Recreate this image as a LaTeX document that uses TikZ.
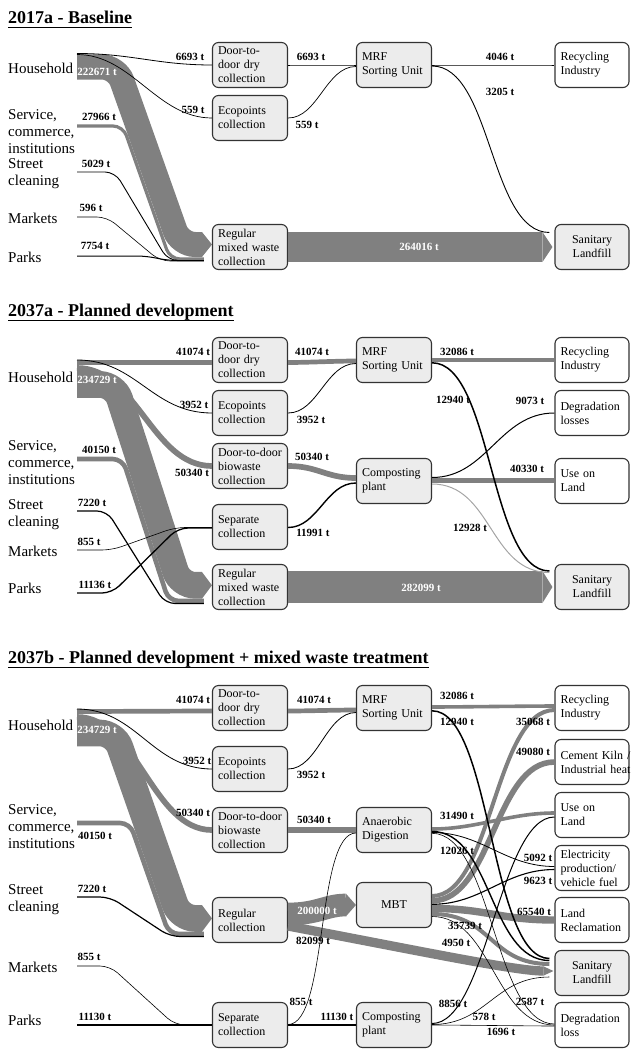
\documentclass[tikz,border=0pt]{standalone}
\usepackage{fontspec}
\setmainfont{Liberation Serif}
\usetikzlibrary{arrows.meta}
\definecolor{bandgray}{RGB}{128,128,128}
\definecolor{boxgray}{RGB}{236,236,236}
\definecolor{pale}{RGB}{165,165,165}

\begin{document}
\begin{tikzpicture}
  [x=1pt,y=-1pt,
   box/.style={draw=black!80,line width=1.1pt,rounded corners=6pt,fill=boxgray,
     minimum width=75pt,minimum height=45pt,text width=64pt,inner xsep=5.5pt,
     inner ysep=1pt,align=left,font=\fontsize{12}{14}\selectfont},
   sink/.style={box,fill=white,minimum width=74pt,text width=63pt},
   src/.style={anchor=west,inner sep=0pt,align=left,font=\fontsize{15}{17}\selectfont},
   lab/.style={inner sep=0pt,font=\fontsize{11}{12}\selectfont\bfseries},
   wlab/.style={lab,text=white},
   ttl/.style={anchor=west,inner sep=0pt,font=\fontsize{18}{20}\selectfont\bfseries},
   flowk/.style={draw=black,line width=#1pt},
   flowg/.style={draw=bandgray,line width=#1pt},
   tip/.style={-{Triangle[length=10pt,width=0pt 1,line width=0pt]}},
   sflow/.style={to path={.. controls +(#1,0) and +(-#1,0) .. (\tikztotarget)}}]
  \useasboundingbox (0,0) rectangle (630,1049);

  % ---------- 2017a ----------
  \node[ttl] (t1) at (8,17) {2017a - Baseline};
  \draw[line width=1.3pt] ([yshift=-4pt]t1.base west) -- ([yshift=-4pt]t1.base east);
  \node[src] (s11) at (8,68) {Household};
  \node[src] (s12) at (8,132) {Service,\\commerce,\\institutions};
  \node[src] (s13) at (8,174) {Street\\cleaning};
  \node[src] (s14) at (8,218) {Markets};
  \node[src] (s15) at (8,257) {Parks};

  \node[box] (dtd1) at (250,65) {Door-to-\\door dry\\collection};
  \node[box] (eco1) at (250,118) {Ecopoints\\collection};
  \node[box] (reg1) at (250,247) {Regular\\mixed waste\\collection};
  \node[box] (mrf1) at (394,65) {MRF\\Sorting Unit};
  \node[sink] (rec1) at (592,65) {Recycling\\Industry};
  \node[sink,fill=boxgray,align=center] (lan1) at (592,247) {Sanitary\\Landfill};

  \coordinate (hh1) at (77,53);
  \coordinate (sv1) at (77,126);
  \coordinate (st1) at (77,172);
  \coordinate (mk1) at (77,217);
  \coordinate (pk1) at (77,256);

  \draw[flowg=25,tip,rounded corners=15pt] ([shift={(0,14)}]hh1) -- ++(40,0) -- ++(63,177.5) -- ([shift={(0,-2.5)}]reg1.west);
  \draw[flowg=3.2,rounded corners=10pt] (sv1) -- ++(46,0) -- ++(47,133) -- ([shift={(-8,12)}]reg1.west);
  \draw[flowg=30,tip] (reg1.east) -- ([xshift=-2pt]lan1.west);
  \draw[flowk=0.9,rounded corners=10pt] (st1) -- ++(38,0) -- ++(53,88.5) -- ([shift={(-8,13.5)}]reg1.west);
  \draw[flowk=0.6,rounded corners=10pt] (mk1) -- ++(30,0) -- ++(53,44) -- ([shift={(-8,14)}]reg1.west);
  \draw[flowk=1,rounded corners=10pt] (pk1) -- ++(70,0) -- ++(20,4.5) -- ([shift={(-8,13.5)}]reg1.west);

  \foreach \a/\ay/\b/\by/\w/\h in {hh1/0.5/dtd1/0/0.8/55, hh1/1.5/eco1/0/0.7/55}
    \draw[flowk=\w] ([shift={(0,\ay)}]\a) to[sflow=\h] ([shift={(0,\by)}]\b.west);

  \foreach \a/\ay/\b/\bx/\by/\w/\h in {
      dtd1/0/mrf1/0/0/0.8/20, eco1/0/mrf1/0/1.5/0.7/30,
      mrf1/0/rec1/0/0/0.6/20, mrf1/1/lan1/-5/-14.5/0.9/60}
    \draw[flowk=\w] ([shift={(0,\ay)}]\a.east) to[sflow=\h] ([shift={(\bx,\by)}]\b.west);

  \foreach \v/\x/\y [count=\i] in {6693/190/57, 559/193/110, 6693/311/57, 559/307/125,
      4046/500/57, 3205/500/92, 27966/99/117, 5029/96/164, 596/91/208, 7754/95/246}
    \node[lab] (la\i) at (\x,\y) {\v~t};
  \node[wlab] (wa1) at (97,72) {222671~t};
  \node[wlab] (wa2) at (419,247) {264016~t};

  % ---------- 2037a ----------
  \node[ttl] (t2) at (8,312) {2037a - Planned development};
  \draw[line width=1.3pt] ([yshift=-4pt]t2.base west) -- ([yshift=-4pt]t2.base east);
  \node[src] (s21) at (8,377) {Household};
  \node[src] (s22) at (8,463) {Service,\\commerce,\\institutions};
  \node[src] (s23) at (8,515) {Street\\cleaning};
  \node[src] (s24) at (8,551) {Markets};
  \node[src] (s25) at (8,588) {Parks};

  \node[box] (dtd2) at (250,360) {Door-to-\\door dry\\collection};
  \node[box] (eco2) at (250,413) {Ecopoints\\collection};
  \node[box] (bio2) at (250,466) {Door-to-door\\biowaste\\collection};
  \node[box] (sep2) at (250,527) {Separate\\collection};
  \node[box] (reg2) at (250,587) {Regular\\mixed waste\\collection};
  \node[box] (mrf2) at (394,360) {MRF\\Sorting Unit};
  \node[box] (comp2) at (394,481) {Composting\\plant};
  \node[sink] (rec2) at (592,360) {Recycling\\Industry};
  \node[sink] (deg2) at (592,413) {Degradation\\losses};
  \node[sink] (use2) at (592,481) {Use on\\Land};
  \node[sink,fill=boxgray,align=center] (lan2) at (592,587) {Sanitary\\Landfill};

  \coordinate (hh2) at (77,360);
  \coordinate (sv2) at (77,459);
  \coordinate (st2) at (77,511);
  \coordinate (mk2) at (77,550);
  \coordinate (pk2) at (77,593);

  \draw[flowg=26.7,tip,rounded corners=15pt] ([shift={(0,24.5)}]hh2) -- ++(38,0) -- ++(65,200.8) -- ([shift={(0,-1.7)}]reg2.west);
  \draw[flowg=4.6,rounded corners=10pt] (sv2) -- ++(45.7,0) -- ++(46,142) -- ([shift={(-8,14)}]reg2.west);
  \foreach \a/\ay/\b/\by/\w/\h in {hh2/2.5/dtd2/2.5/4.7/20, hh2/8/bio2/0/5.7/60}
    \draw[flowg=\w] ([shift={(0,\ay)}]\a) to[sflow=\h] ([shift={(0,\by)}]\b.west);
  \draw[flowg=32,tip] (reg2.east) -- ([xshift=-2pt]lan2.west);
  \foreach \a/\ay/\b/\bx/\by/\w/\h in {
      dtd2/2.5/mrf2/0/1/4.7/20, bio2/0/comp2/0/-3/5.7/30,
      mrf2/0/rec2/0/0/3.6/20, comp2/-0.5/use2/0/-0.5/4.6/20}
    \draw[flowg=\w] ([shift={(0,\ay)}]\a.east) to[sflow=\h] ([shift={(\bx,\by)}]\b.west);
  \draw[draw=pale,line width=1pt] ([shift={(0,3)}]comp2.east) to[sflow=60] ([shift={(-5,-14.5)}]lan2.west);

  \draw[flowk=1.2,rounded corners=10pt] (st2) -- ++(30,0) -- ++(58,92.5) -- ([shift={(-8,16.5)}]reg2.west);
  \draw[flowk=0.6,rounded corners=10pt] (mk2) -- ++(35,0) -- ++(63,-22.5) -- ([shift={(0,0.5)}]sep2.west);
  \draw[flowk=1.3,rounded corners=10pt] (pk2) -- ++(35,0) -- ++(66,-65) -- ([shift={(0,1)}]sep2.west);
  \draw[flowk=0.8] (hh2) to[sflow=60] (eco2.west);
  \foreach \a/\ay/\b/\bx/\by/\w/\h in {
      eco2/0/mrf2/0/3.5/0.8/30, sep2/0.5/comp2/0/2/1.4/30,
      mrf2/2.8/lan2/-5/-16/1.5/60, comp2/-3.5/deg2/0/0/1/55}
    \draw[flowk=\w] ([shift={(0,\ay)}]\a.east) to[sflow=\h] ([shift={(\bx,\by)}]\b.west);

  \foreach \v/\x/\y [count=\i] in {41074/193/352, 3952/194/405, 50340/192/473, 40150/99/450,
      7220/92/503, 855/89/542, 11136/95/585, 41074/312/352, 3952/311/420, 50340/312/457,
      11991/313/533, 32086/457/352, 12940/453/400, 9073/530/401, 40330/527/469, 12928/470/528}
    \node[lab] (lb\i) at (\x,\y) {\v~t};
  \node[wlab] (wb1) at (97,380) {234729~t};
  \node[wlab] (wb2) at (421,588) {282099~t};

  % ---------- 2037b ----------
  \node[ttl] (t3) at (8,659) {2037b - Planned development + mixed waste treatment};
  \draw[line width=1.3pt] ([yshift=-4pt]t3.base west) -- ([yshift=-4pt]t3.base east);
  \node[src] (s31) at (8,725) {Household};
  \node[src] (s32) at (8,827) {Service,\\commerce,\\institutions};
  \node[src] (s33) at (8,900) {Street\\cleaning};
  \node[src] (s34) at (8,967) {Markets};
  \node[src] (s35) at (8,1020) {Parks};

  \node[box] (dtd3) at (250,708) {Door-to-\\door dry\\collection};
  \node[box] (eco3) at (250,769) {Ecopoints\\collection};
  \node[box] (bio3) at (250,830) {Door-to-door\\biowaste\\collection};
  \node[box] (regc3) at (250,920) {Regular\\collection};
  \node[box] (sep3) at (250,1025) {Separate\\collection};
  \node[box] (mrf3) at (394,708) {MRF\\Sorting Unit};
  \node[box] (ad3) at (394,830) {Anaerobic\\Digestion};
  \node[box,align=center] (mbt3) at (394,905) {MBT};
  \node[box] (comp3) at (394,1025) {Composting\\plant};
  \node[sink] (rec3) at (592,708) {Recycling\\Industry};
  \node[sink] (cem3) at (592,762) {Cement~Kiln~/\\Industrial~heat};
  \node[sink] (use3) at (592,815) {Use on\\Land};
  \node[sink] (ele3) at (592,868) {Electricity\\production/\\vehicle fuel};
  \node[sink] (lrec3) at (592,920) {Land\\Reclamation};
  \node[sink,fill=boxgray,align=center] (lan3) at (592,973) {Sanitary\\Landfill};
  \node[sink] (deg3) at (592,1025) {Degradation\\loss};

  \coordinate (hh3) at (77,709);
  \coordinate (sv3) at (77,823);
  \coordinate (st3) at (77,897);
  \coordinate (mk3) at (77,966);
  \coordinate (pk3) at (77,1025);

  \draw[flowg=26.7,tip,rounded corners=15pt] ([shift={(0,24)}]hh3) -- ++(38,0) -- ++(65,185.4) -- ([shift={(0,-1.6)}]regc3.west);
  \draw[flowg=4.6,rounded corners=10pt] (sv3) -- ++(53,0) -- ++(39,111) -- ([shift={(-8,14)}]regc3.west);
  \foreach \a/\ay/\b/\by/\w/\h in {hh3/2.5/dtd3/3/4.7/20, hh3/8/bio3/0/5.7/60}
    \draw[flowg=\w] ([shift={(0,\ay)}]\a) to[sflow=\h] ([shift={(0,\by)}]\b.west);
  \draw[flowg=22.7,tip] ([shift={(0,-6)}]regc3.east) to[sflow=30] (mbt3.west);
  \draw[flowg=9.3,tip] ([shift={(0,6)}]regc3.east) .. controls +(132,25) and +(-38,0) .. ([shift={(-1,-2)}]lan3.west);
  \foreach \a/\ay/\b/\bx/\by/\w/\h in {
      dtd3/3/mrf3/0/2/4.7/20, bio3/0/ad3/0/0/5.7/20,
      mrf3/-1/rec3/0/-2/3.6/20, ad3/-1/use3/0/-2/3.6/45,
      mbt3/-9/rec3/0/2/4/60, mbt3/-4.2/cem3/0/0/5.6/60,
      mbt3/3.5/lrec3/0/0/7.4/55, mbt3/9/lan3/-5/-9/4/60}
    \draw[flowg=\w] ([shift={(0,\ay)}]\a.east) to[sflow=\h] ([shift={(\bx,\by)}]\b.west);

  \draw[flowk=1.2,rounded corners=10pt] (st3) -- ++(33,0) -- ++(60,39.5) -- ([shift={(-8,16.5)}]regc3.west);
  \draw[flowk=0.6,rounded corners=10pt] (mk3) -- ++(33,0) -- ++(65,59) -- (sep3.west);
  \draw[flowk=1.3] (pk3) -- (sep3.west);
  \draw[flowk=0.8] (hh3) to[sflow=60] (eco3.west);
  \foreach \a/\ay/\b/\bx/\by/\w/\h in {
      eco3/0/mrf3/0/4.5/0.8/30, sep3/-0.5/ad3/0/3/0.6/40, sep3/0/comp3/0/0/1.3/20,
      mrf3/2.8/lan3/-5/-14.5/1.5/60, ad3/1.5/lan3/-5/-12.5/1.4/60,
      ad3/2.5/ele3/0/-1.5/0.8/50, ad3/3.3/deg3/0/-1/0.6/60,
      mbt3/-0.7/ele3/0/1.5/1.1/50, mbt3/11.5/deg3/0/0/0.6/60,
      comp3/-1.5/use3/0/2/1/55, comp3/-0.5/lan3/-5/4/0.6/55, comp3/0/deg3/0/1/0.6/20}
    \draw[flowk=\w] ([shift={(0,\ay)}]\a.east) to[sflow=\h] ([shift={(\bx,\by)}]\b.west);

  \foreach \v/\x/\y [count=\i] in {41074/193/700, 3952/197/761, 50340/193/813, 40150/95/836,
      7220/92/889, 855/89/957, 11130/95/1017, 855/301/1002, 41074/314/700, 3952/311/775,
      50340/314/820, 32086/457/696, 12940/457/722, 35068/533/722, 49080/533/752,
      31490/457/816, 12026/457/851, 5092/538/858, 9623/538/881, 65540/534/912,
      35739/465/926, 4950/456/943, 8856/453/1004, 578/484/1017, 1696/501/1032,
      2587/530/1002, 11130/337/1017, 82099/313/941}
    \node[lab] (lc\i) at (\x,\y) {\v~t};
  \node[wlab] (wc1) at (97,730) {234729~t};
  \node[wlab] (wc2) at (317,911) {200000~t};
\end{tikzpicture}
\end{document}
